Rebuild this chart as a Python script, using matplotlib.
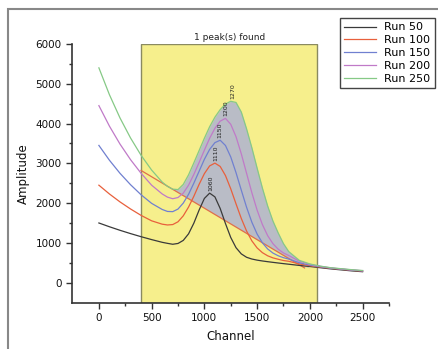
import numpy as np
import matplotlib
matplotlib.use('Agg')
import matplotlib.pyplot as plt
from matplotlib.patches import Rectangle

# channels
channel = [0, 100, 200, 300, 400, 500, 600, 650, 700, 750, 800, 850, 900, 950,
           1000, 1050, 1100, 1150, 1200, 1250, 1300, 1350, 1400, 1450, 1500,
           1550, 1600, 1650, 1700, 1750, 1800, 1900, 2000, 2100, 2200, 2300,
           2400, 2500]

run50 = [1500, 1405, 1316, 1233, 1155, 1082, 1014, 988, 965, 985, 1062, 1227,
         1494, 1824, 2117, 2250, 2156, 1864, 1486, 1136, 879, 723, 638, 594,
         566, 545, 527, 510, 494, 478, 463, 433, 406, 375, 345, 320, 295, 275]
run100 = [2450, 2229, 2030, 1852, 1691, 1554, 1470, 1450, 1460, 1530, 1680,
          1900, 2170, 2470, 2740, 2935, 3005, 2921, 2692, 2359, 1981, 1614,
          1298, 1051, 873, 754, 675, 623, 588, 556, 537, 470, 425, 390, 360,
          335, 310, 290]
run150 = [3450, 3077, 2749, 2462, 2209, 1993, 1840, 1790, 1785, 1850, 2000,
          2220, 2500, 2800, 3100, 3350, 3520, 3580, 3448, 3160, 2765, 2326,
          1896, 1521, 1222, 1002, 847, 744, 676, 627, 592, 500, 440, 400, 365,
          340, 315, 295]
run200 = [4450, 3934, 3484, 3092, 2749, 2450, 2230, 2150, 2110, 2140, 2250,
          2450, 2720, 3020, 3330, 3630, 3880, 4060, 4130, 3981, 3669, 3239,
          2750, 2262, 1823, 1461, 1181, 980, 841, 746, 681, 540, 460, 410, 370,
          345, 320, 300]
run250 = [5400, 4724, 4141, 3637, 3201, 2830, 2529, 2420, 2350, 2340, 2470,
          2710, 3010, 3320, 3630, 3920, 4160, 4350, 4490, 4560, 4530, 4290,
          3867, 3393, 2880, 2379, 1927, 1549, 1249, 980, 780, 560, 470, 415,
          375, 350, 325, 305]

run_names = ['Run 50', 'Run 100', 'Run 150', 'Run 200', 'Run 250']
run_colors = ['#3a3a3a', '#e8603c', '#7080d0', '#c07ac8', '#86c986']

# peak positions and labels
peak_ch = [1060, 1110, 1150, 1200, 1270]
peak_amp = [2250, 3000, 3580, 4130, 4560]

# baseline under the peak and the search window
base_x = [400, 1950]
base_y = [2820, 370]
window = [400, 2070]

fig = plt.figure(figsize=(4.39, 3.49), dpi=100)
ax = fig.add_axes([0.164, 0.132, 0.722, 0.742])

ax.add_patch(Rectangle((window[0], -510), window[1] - window[0], 6000 + 510,
                       facecolor='#f6ef8c', edgecolor='#8a8a60', lw=1, zorder=0))
ax.text((window[0] + window[1]) / 2, 6050, '1 peak(s) found', ha='center',
        va='bottom', fontsize=6.5, color='#222222')

ch = np.array(channel)
top = np.array(run250)
base = np.interp(ch, base_x, base_y)
mask = (ch >= 700) & (ch <= base_x[1])
ax.fill_between(ch, base, top, where=mask & (top > base), interpolate=True,
                color='#b9bcc6', lw=0, zorder=1)
ax.plot(base_x, base_y, color='#e0704a', lw=0.9, zorder=2)

for vals, name, c in zip([run50, run100, run150, run200, run250], run_names, run_colors):
    ax.plot(channel, vals, color=c, lw=0.9, label=name, zorder=3)

for px, py in zip(peak_ch, peak_amp):
    ax.text(px, py + 60, str(px), rotation=90, ha='center', va='bottom',
            fontsize=4.5, color='#222222', zorder=4)

ax.set_xlim(-255, 2745)
ax.set_ylim(-510, 6000)
ax.set_xticks([0, 500, 1000, 1500, 2000, 2500])
ax.set_xticks([250, 750, 1250, 1750, 2250, 2750], minor=True)
ax.set_yticks([0, 1000, 2000, 3000, 4000, 5000, 6000])
ax.set_yticks([500, 1500, 2500, 3500, 4500, 5500], minor=True)
for s in ['top', 'right']:
    ax.spines[s].set_visible(False)
for s in ['left', 'bottom']:
    ax.spines[s].set_color('#333333')
    ax.spines[s].set_linewidth(1.2)
ax.tick_params(which='major', length=4, width=1, color='#333333',
               labelsize=7.5, labelcolor='#111111')
ax.tick_params(which='minor', length=2.5, width=1, color='#333333')
ax.set_xlabel('Channel', fontsize=8.5, color='#111111', labelpad=5)
ax.set_ylabel('Amplitude', fontsize=8.5, color='#111111', labelpad=4)

leg = ax.legend(loc='upper left', bbox_to_anchor=(340 / 439, 1 - 18 / 349),
                bbox_transform=fig.transFigure, fontsize=8, fancybox=False,
                edgecolor='#444444', framealpha=1, borderaxespad=0,
                handlelength=2.8, labelspacing=0.25, borderpad=0.4)
leg.get_frame().set_linewidth(1)

fig.patches.append(Rectangle((8 / 439, -0.1), 1.2, 1 - 9 / 349 + 0.1,
                             transform=fig.transFigure, fill=False,
                             edgecolor='#888888', lw=1.5))

fig.savefig('out.png', dpi=100)
